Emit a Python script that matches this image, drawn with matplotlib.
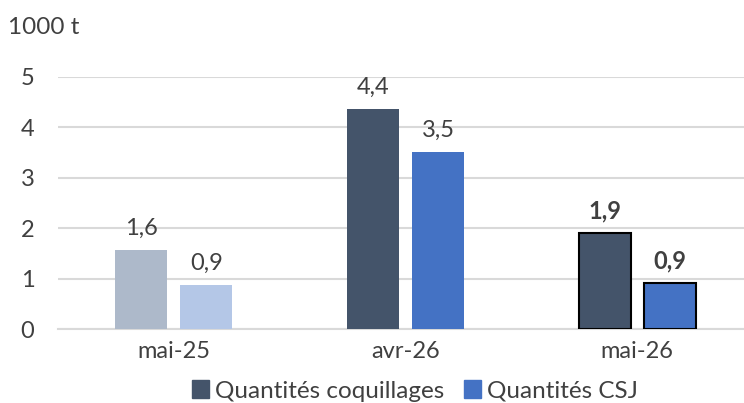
import matplotlib.pyplot as plt
import numpy as np
from matplotlib.patches import Patch

plt.rcParams["font.family"] = ["Lato", "DejaVu Sans"]

categories = ["mai-25", "avr-26", "mai-26"]
coquillages = [1.57, 4.36, 1.90]
csj = [0.87, 3.51, 0.91]

INK = "#404040"
GRID = "#D9D9D9"
DARK = ["#ADB9CA", "#44546A", "#44546A"]
BLUE = ["#B4C7E7", "#4472C4", "#4472C4"]
EDGE = [None, None, "black"]
BOLD = [False, False, True]

fig = plt.figure(figsize=(7.44, 4.03), dpi=100)
ax = fig.add_axes([58 / 744, 74 / 403, 695 / 744, 252 / 403])

x = np.arange(len(categories))
width = 0.224
offset = 0.14

for i in range(len(categories)):
    for xi, v, c in ((x[i] - offset, coquillages[i], DARK[i]),
                     (x[i] + offset, csj[i], BLUE[i])):
        ax.bar(xi, v, width=width, color=c, zorder=3,
               edgecolor=EDGE[i] if EDGE[i] else c,
               linewidth=1.5 if EDGE[i] else 0)
        ax.annotate(f"{v:.1f}".replace(".", ","), (xi, v),
                    xytext=(0, 8), textcoords="offset points",
                    ha="center", va="bottom", fontsize=17, color=INK,
                    fontweight="bold" if BOLD[i] else "normal")

ax.set_xlim(-0.5, 2.5)
ax.set_ylim(0, 5)
ax.set_yticks(range(6))
ax.set_xticks(x)
ax.set_xticklabels(categories)
ax.tick_params(length=0, labelsize=17, colors=INK)
ax.tick_params(axis="y", pad=17)
ax.tick_params(axis="x", pad=9)
ax.yaxis.grid(True, color=GRID, linewidth=1.5, zorder=0)
for s in ("top", "right", "left"):
    ax.spines[s].set_visible(False)
ax.spines["bottom"].set_color(GRID)
ax.spines["bottom"].set_linewidth(1.5)

fig.text(8 / 744, 1 - 27 / 403, "1000 t", fontsize=17.5, color=INK, va="center")

handles = [Patch(color="#44546A", label="Quantités coquillages"),
           Patch(color="#4472C4", label="Quantités CSJ")]
fig.legend(handles=handles, loc="center", bbox_to_anchor=(415 / 744, 12 / 403),
           ncol=2, frameon=False, fontsize=17.5, labelcolor=INK,
           handlelength=0.7, handleheight=0.7, handletextpad=0.25,
           columnspacing=0.8, borderpad=0.1)

fig.savefig("out.png", dpi=100)
